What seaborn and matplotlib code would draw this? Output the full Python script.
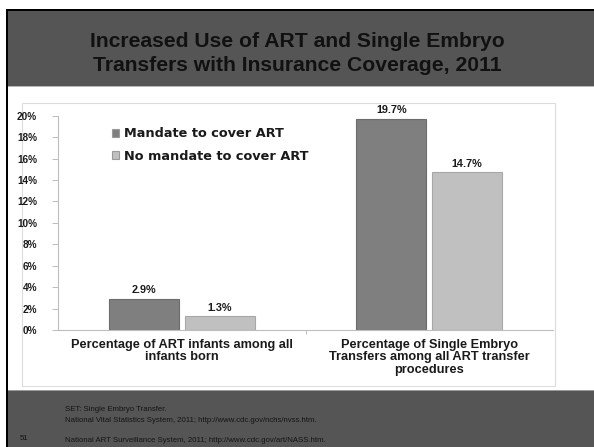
import matplotlib
matplotlib.use("Agg")
import matplotlib.pyplot as plt
from matplotlib.patches import Rectangle
import pandas as pd
import seaborn as sns

# Data
categories = [
    "Percentage of ART infants among all\ninfants born",
    "Percentage of Single Embryo\nTransfers among all ART transfer\nprocedures",
]
groups = ["Mandate to cover ART", "No mandate to cover ART"]
mandate_vals = [2.9, 19.7]
no_mandate_vals = [1.3, 14.7]
y_ticks = [0, 2, 4, 6, 8, 10, 12, 14, 16, 18, 20]

title_lines = "Increased Use of ART and Single Embryo\nTransfers with Insurance Coverage, 2011"
footer_lines = [
    "SET: Single Embryo Transfer.",
    "National Vital Statistics System, 2011; http://www.cdc.gov/nchs/nvss.htm.",
    "National ART Surveillance System, 2011; http://www.cdc.gov/art/NASS.htm.",
]
slide_number = "51"

df = pd.DataFrame({
    "category": categories * 2,
    "group": [groups[0]] * 2 + [groups[1]] * 2,
    "value": mandate_vals + no_mandate_vals,
})

sns.set_theme(style="white")
plt.rcParams["font.family"] = ["Liberation Sans", "DejaVu Sans"]

W, H = 594, 447
fig = plt.figure(figsize=(W / 100, H / 100), dpi=100)
fig.patch.set_facecolor("white")


def fx(px):
    return px / W


def fy(py):
    return 1 - py / H


def band(x0, y_top, w, h, color, z=-2):
    """Filled rectangle in pixel units measured from the top-left corner."""
    fig.patches.append(Rectangle((fx(x0), fy(y_top + h)), w / W, h / H,
                                 transform=fig.transFigure, facecolor=color,
                                 edgecolor="none", zorder=z))


# Slide decoration: header band, footer band, borders, chart frame
bg = "#555555"
band(8, 11, W - 8, 75, bg)
band(8, 86, W - 8, 1.2, "#b8b8b8")
band(8, 390, W - 8, 57, bg)
band(8, 390, W - 8, 1.2, "#9a9a9a")
band(6, 9, W - 6, 2, "black", z=-1)
band(6, 9, 2.2, H - 9, "black", z=-1)
fig.patches.append(Rectangle((fx(22), fy(386)), fx(555 - 22), (386 - 103) / H,
                             transform=fig.transFigure, facecolor="white",
                             edgecolor="#dcdcdc", lw=0.8, zorder=-2))

fig.text(0.5, fy(53.5), title_lines, ha="center", va="center", fontsize=15.2,
         fontweight="bold", color="#111111", linespacing=1.3)

foot_y = [409.5, 421, 440]
for txt, yy in zip(footer_lines, foot_y):
    fig.text(fx(65), fy(yy), txt, ha="left", va="center", fontsize=5.6, color="#141414")
fig.text(fx(20), fy(439), slide_number, ha="left", va="center", fontsize=5.6, color="#141414")

# Chart
ax = fig.add_axes([fx(58), fy(330), fx(553 - 58), (330 - 115.7) / H])
ax.set_zorder(2)
ax.set_facecolor("none")
sns.barplot(data=df, x="category", y="value", hue="group", order=categories,
            hue_order=groups, palette=["#7f7f7f", "#c0c0c0"], width=0.614, gap=0.08,
            ax=ax, saturation=1, edgecolor="#9a9a9a", linewidth=0.8, legend=True)

# Slightly bevelled bar outlines
for cont, ec in zip(ax.containers, ["#6c6c6c", "#a8a8a8"]):
    for bar in cont:
        bar.set_edgecolor(ec)

for cont in ax.containers:
    ax.bar_label(cont, labels=[f"{v:.1f}%" for v in cont.datavalues], padding=2.5,
                 fontsize=7.8, fontweight="bold", color="#1a1a1a")

ax.set_ylim(0, 20)
ax.set_xlim(-0.5, 1.5)
ax.set_yticks(y_ticks)
ax.set_yticklabels([f"{t}%" for t in y_ticks], fontsize=7.2, fontweight="bold", color="#1a1a1a")
ax.set_xticks([0.5])
ax.set_xticklabels([""])
ax.tick_params(axis="y", which="major", left=True, length=4, width=0.7, color="#bdbdbd", pad=11)
ax.tick_params(axis="x", which="major", bottom=True, length=3, width=0.7, color="#bdbdbd")
for i, lab in enumerate(categories):
    ax.text(i, -0.04, lab, transform=ax.get_xaxis_transform(), ha="center", va="top",
            fontsize=9.2, fontweight="bold", color="#1a1a1a", linespacing=1.1)
ax.set_xlabel("")
ax.set_ylabel("")
for side in ["top", "right"]:
    ax.spines[side].set_visible(False)
for side in ["left", "bottom"]:
    ax.spines[side].set_color("#bdbdbd")
    ax.spines[side].set_linewidth(0.8)

leg = ax.legend(loc="upper left", bbox_to_anchor=(fx(106), fy(121)), bbox_transform=fig.transFigure,
                frameon=False, borderpad=0, handlelength=0.5, handleheight=0.5,
                handletextpad=0.4, labelspacing=0.72,
                prop={"family": "DejaVu Sans", "weight": "bold", "size": 9.3})
for t in leg.get_texts():
    t.set_color("#1a1a1a")

fig.savefig("out.png", dpi=100)
